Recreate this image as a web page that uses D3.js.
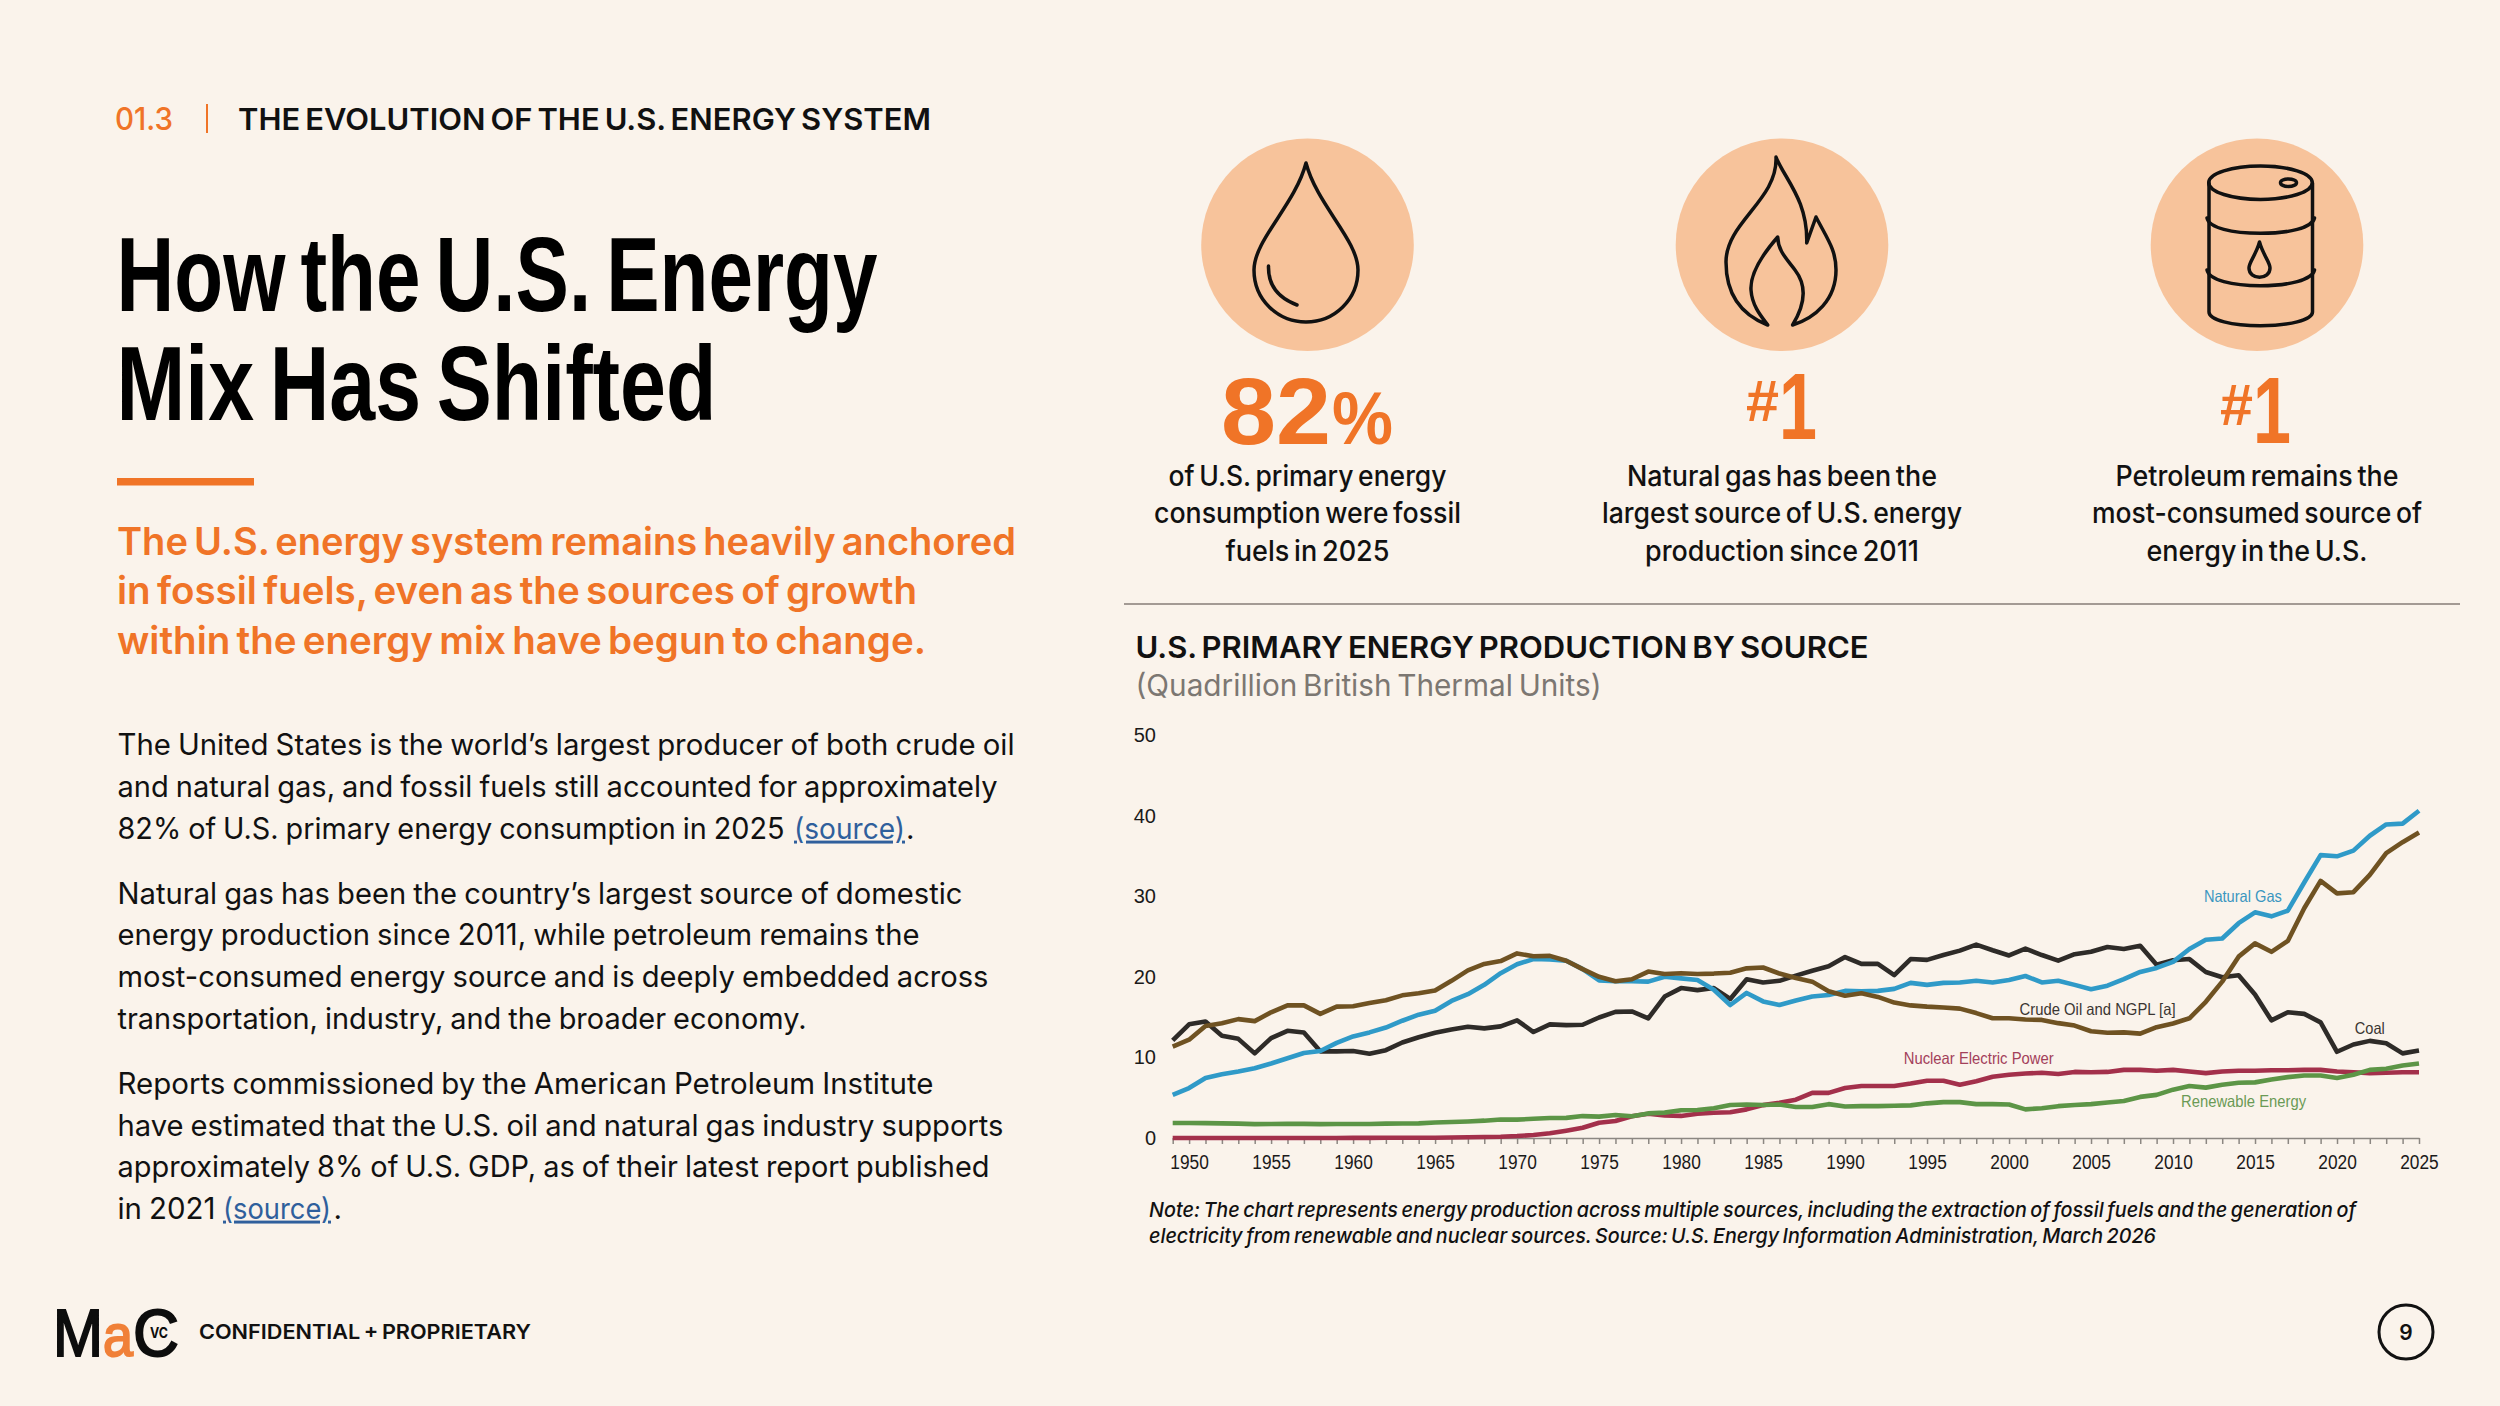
<!DOCTYPE html>
<html>
<head>
<meta charset="utf-8">
<style>
    html, body { margin: 0; padding: 0; background: #faf3eb; }
    svg { display: block; }
    text { font-family: Inter, "Liberation Sans", sans-serif; word-spacing: -0.09em; }
    .axis text, .tag { font-family: "Liberation Sans", Arial, sans-serif; word-spacing: 0; }
</style>
<script src="https://cdn.jsdelivr.net/npm/d3@7/dist/d3.min.js"></script>
</head>
<body>
<div id="slide"></div>
<script>
// Chart values (quadrillion Btu), 1949 to 2025
const years = d3.range(1949, 2026);
const coal = [12.1,
    14.1,14.45,12.7,12.3,10.5,12.4,13.3,13.1,10.75,10.75,
    10.8,10.45,10.9,11.85,12.5,13.05,13.45,13.8,13.6,13.85,
    14.6,13.15,14.1,14.0,14.05,14.95,15.65,15.7,14.85,17.55,
    18.6,18.35,18.6,17.25,19.7,19.3,19.5,20.15,20.75,21.3,
    22.45,21.6,21.6,20.2,22.2,22.1,22.7,23.25,24.0,23.3,
    22.65,23.5,22.7,22.0,22.8,23.1,23.7,23.45,23.85,21.5,
    22.05,22.2,20.6,19.95,20.2,17.8,14.6,15.6,15.4,14.35,
    10.7,11.6,12.05,11.75,10.5,10.85];
const naturalGas = [5.35,
    6.2,7.45,7.9,8.25,8.65,9.25,9.9,10.55,10.8,11.8,
    12.6,13.1,13.7,14.55,15.3,15.8,17.0,17.85,19.0,20.45,
    21.55,22.2,22.15,22.0,20.95,19.55,19.45,19.45,19.4,20.0,
    19.8,19.6,18.4,16.5,18.0,16.95,16.5,17.05,17.55,17.75,
    18.25,18.2,18.25,18.5,19.25,19.0,19.25,19.3,19.5,19.3,
    19.6,20.1,19.3,19.5,19.0,18.45,18.9,19.7,20.6,21.1,
    21.85,23.45,24.6,24.75,26.65,28.0,27.5,28.2,31.7,35.1,
    34.95,35.65,37.5,38.9,39.0,40.6];
const crudeOil = [11.35,
    12.2,13.9,14.25,14.75,14.5,15.6,16.45,16.45,15.4,16.3,
    16.35,16.75,17.1,17.7,17.95,18.3,19.5,20.8,21.6,21.95,
    22.9,22.55,22.6,22.0,20.95,20.0,19.45,19.7,20.65,20.35,
    20.45,20.35,20.4,20.5,21.05,21.15,20.4,19.85,19.4,18.2,
    17.65,17.95,17.5,16.8,16.45,16.3,16.2,16.05,15.5,14.85,
    14.85,14.7,14.65,14.25,13.95,13.25,13.05,13.1,12.95,13.75,
    14.2,14.85,16.9,19.4,22.5,24.15,23.1,24.45,28.5,31.9,
    30.35,30.5,32.65,35.35,36.7,37.9];
const nuclear = [0,
    0,0,0,0,0,0,0,0,0,0,
    0.01,0.02,0.03,0.03,0.04,0.04,0.06,0.09,0.13,0.15,
    0.24,0.38,0.58,0.91,1.27,1.9,2.1,2.7,3.0,2.8,
    2.74,3.0,3.13,3.2,3.55,4.08,4.38,4.75,5.6,5.6,
    6.2,6.45,6.45,6.45,6.75,7.1,7.1,6.6,7.05,7.6,
    7.85,8.0,8.1,7.95,8.2,8.15,8.2,8.45,8.45,8.35,
    8.45,8.25,8.05,8.25,8.35,8.35,8.4,8.4,8.45,8.45,
    8.25,8.15,8.05,8.1,8.15,8.15];
const renewable = [1.86,
    1.87,1.85,1.82,1.78,1.72,1.74,1.77,1.75,1.72,1.73,
    1.74,1.74,1.78,1.8,1.82,1.93,1.98,2.05,2.15,2.3,
    2.28,2.38,2.48,2.5,2.72,2.65,2.85,2.7,3.05,3.15,
    3.45,3.48,3.7,4.1,4.15,4.1,4.15,3.85,3.85,4.2,
    3.9,3.95,3.95,4.0,4.05,4.3,4.45,4.45,4.2,4.2,
    4.15,3.55,3.7,3.95,4.1,4.2,4.4,4.6,5.1,5.35,
    6.0,6.45,6.25,6.6,6.85,6.9,7.25,7.55,7.75,7.75,
    7.45,7.85,8.45,8.6,9.0,9.25];
const yTicks = [0, 10, 20, 30, 40, 50];
const seriesColors = { coal: "#2e2b28", naturalGas: "#2f9ac8", crudeOil: "#6f5222", nuclear: "#a3304b", renewable: "#5c9546" };

const bodyText = [
    ["The United States is the world\u2019s largest producer of both crude oil", 755.4, 897],
    ["and natural gas, and fossil fuels still accounted for approximately", 797, 880],
    ["82% of U.S. primary energy consumption in 2025", 838.6, 667],
    ["Natural gas has been the country\u2019s largest source of domestic", 903.6, 845],
    ["energy production since 2011, while petroleum remains the", 945.4, 802],
    ["most-consumed energy source and is deeply embedded across", 986.8, 871],
    ["transportation, industry, and the broader economy.", 1028.6, 689],
    ["Reports commissioned by the American Petroleum Institute", 1094, 816],
    ["have estimated that the U.S. oil and natural gas industry supports", 1135.7, 886],
    ["approximately 8% of U.S. GDP, as of their latest report published", 1177, 872],
    ["in 2021", 1218.6, 98]
];
const statCaptions = [
    [1307.5, ["of U.S. primary energy", 278], ["consumption were fossil", 307], ["fuels in 2025", 164]],
    [1782, ["Natural gas has been the", 310], ["largest source of U.S. energy", 360], ["production since 2011", 274]],
    [2257, ["Petroleum remains the", 283], ["most-consumed source of", 330], ["energy in the U.S.", 221]]
];

const svg = d3.select("#slide").append("svg").attr("width", 2500).attr("height", 1406);
svg.append("rect").attr("width", 2500).attr("height", 1406).attr("fill", "#faf3eb");

// Text squeezed to a measured width, the slide fonts are narrower than what we have here
function put(str, x, y, width, size, weight, fill) {
    let t = svg.append("text")
        .attr("x", x).attr("y", y)
        .attr("font-size", size).attr("font-weight", weight).attr("fill", fill)
        .text(str);
    if (width) t.attr("textLength", width).attr("lengthAdjust", "spacingAndGlyphs");
    return t;
}
const sans = "Liberation Sans";

const ink = "#111111", orange = "#f07427";

// Left column
put("01.3", 115, 129.7, 58, 31, 500, orange);
svg.append("rect").attr("x", 206).attr("y", 104).attr("width", 2).attr("height", 29).attr("fill", orange);
put("THE EVOLUTION OF THE U.S. ENERGY SYSTEM", 238, 129.7, 693, 30, 600, ink);
put("How the U.S. Energy", 116.5, 311, 761, 105, 700, "#000").style("font-family", sans);
put("Mix Has Shifted", 116.5, 420, 600, 105, 700, "#000").style("font-family", sans);
svg.append("rect").attr("x", 117).attr("y", 478).attr("width", 137).attr("height", 7.5).attr("fill", orange);
put("The U.S. energy system remains heavily anchored", 117, 554.5, 899, 38, 600, orange);
put("in fossil fuels, even as the sources of growth", 117, 604.3, 800, 38, 600, orange);
put("within the energy mix have begun to change.", 117, 654, 809, 38, 600, orange);

bodyText.forEach(d => put(d[0], 117.5, d[1], d[2], 29.5, 400, ink).style("word-spacing", "-0.04em"));
const linkBlue = "#2f5f9c";
put("(source)", 794, 838.6, 111, 29.5, 400, linkBlue).style("text-decoration", "underline");
put(".", 906, 838.6, null, 29.5, 400, ink);
put("(source)", 223, 1218.6, 108, 29.5, 400, linkBlue).style("text-decoration", "underline");
put(".", 333.5, 1218.6, null, 29.5, 400, ink);

// Footer, the logo letters are regular weight thickened with a stroke
function logoLetter(str, x, width, size, fill) {
    put(str, x, 1356, width, size, 400, fill)
        .style("font-family", sans)
        .attr("stroke", fill).attr("stroke-width", 2);
}
logoLetter("M", 53, 50, 66, "#0d0d0d");
logoLetter("a", 103, 30, 60, "#f08038");
logoLetter("C", 133, 46, 67, "#0d0d0d");
put("VC", 150, 1338, 18, 15, 700, "#0d0d0d");
put("CONFIDENTIAL + PROPRIETARY", 199, 1339, 332, 20.5, 600, ink);
svg.append("circle").attr("cx", 2406).attr("cy", 1332).attr("r", 27).attr("fill", "none").attr("stroke", "#111").attr("stroke-width", 3);
put("9", 2406, 1340, null, 21, 600, ink).attr("text-anchor", "middle");

// Stat icons
[1307.5, 1782, 2257].forEach(cx => {
    svg.append("circle").attr("cx", cx).attr("cy", 244.7).attr("r", 106.3).attr("fill", "#f7c39b");
});
const icons = svg.append("g").attr("fill", "none").attr("stroke", "#111").attr("stroke-width", 3.5).attr("stroke-linejoin", "round").attr("stroke-linecap", "round");
const iconPaths = [
    "M1306 163C1295 205 1254 240 1254 270C1254 300 1278 322 1306 322C1334 322 1358 300 1358 270C1358 240 1317 205 1306 163Z",
    "M1268.5 266C1268 285 1278 298 1297 305",
    "M1776 157C1784 178 1808 200 1806.7 243L1816 217C1828 240 1836 250 1836 270C1836 300 1815 318 1792.6 325C1808 300 1805 283 1795 270C1785 257 1778 250 1777.7 237C1762 255 1750 275 1751 290C1752 305 1760 315 1767.7 325C1742 315 1726 295 1726 262C1726 222 1778 200 1776 157Z",
    "M2209 183V312C2209 320 2232 325.7 2260.5 325.7C2289 325.7 2312.5 320 2312.5 312V183",
    "M2207 218C2209 228 2232 233.3 2260.5 233.3C2289 233.3 2312 228 2314.5 218",
    "M2207 270C2209 280 2232 285.7 2260.5 285.7C2289 285.7 2312 280 2314.5 270",
    "M2259.5 242C2256 255 2249 262 2249 268C2249 274 2254 277.3 2259.5 277.3C2265 277.3 2270 274 2270 268C2270 262 2263 255 2259.5 242Z"
];
iconPaths.forEach(d => icons.append("path").attr("d", d));
icons.append("ellipse").attr("cx", 2260.5).attr("cy", 182.7).attr("rx", 51.8).attr("ry", 16.7);
icons.append("ellipse").attr("cx", 2288.5).attr("cy", 182.7).attr("rx", 8).attr("ry", 3.8);

// Stat numbers
put("82", 1221, 444, 110, 95, 700, orange).style("font-family", sans);
put("%", 1332, 444, 61, 74, 700, orange).style("font-family", sans);
put("#", 1746, 421, 33, 58, 700, orange).style("font-family", sans);
put("1", 1779, 439, 38, 95, 700, orange).style("font-family", sans);
put("#", 2220, 425, 33, 58, 700, orange).style("font-family", sans);
put("1", 2253, 443, 38, 95, 700, orange).style("font-family", sans);

const captionY = [485.5, 523, 560.5];
statCaptions.forEach(c => {
    [c[1], c[2], c[3]].forEach((line, i) => {
        put(line[0], c[0] - line[1] / 2, captionY[i], line[1], 28, 500, ink);
    });
});

// Chart header
svg.append("line").attr("x1", 1124).attr("x2", 2460).attr("y1", 604).attr("y2", 604).attr("stroke", "#a39a94").attr("stroke-width", 2);
put("U.S. PRIMARY ENERGY PRODUCTION BY SOURCE", 1135.5, 658, 733, 30, 600, ink);
put("(Quadrillion British Thermal Units)", 1135.5, 695.7, 466, 30, 400, "#7c7772");

// Line chart
const x = d3.scaleLinear().domain([1949, 2025]).range([1172.7, 2419]);
const y = d3.scaleLinear().domain([0, 50]).range([1138, 735]);

const xAxis = d3.axisBottom(x)
    .tickValues(years)
    .tickSize(6)
    .tickSizeOuter(0)
    .tickFormat(d => d % 5 === 0 ? String(d) : "");
const gx = svg.append("g").attr("class", "axis").attr("transform", "translate(0,1138)").call(xAxis);
gx.selectAll("line").attr("stroke", "#8c8782").attr("stroke-width", 1.5);
gx.select(".domain").attr("stroke", "#8c8782").attr("stroke-width", 1.5);
gx.selectAll("text")
    .attr("y", 31).attr("dy", 0).attr("font-size", 20).attr("fill", "#1a1a1a")
    .filter(function() { return this.textContent !== ""; })
    .attr("textLength", 38.5).attr("lengthAdjust", "spacingAndGlyphs");

const yAxis = d3.axisLeft(y).tickValues(yTicks).tickSize(0).tickPadding(0);
const gy = svg.append("g").attr("class", "axis").attr("transform", "translate(1156,0)").call(yAxis);
gy.select(".domain").remove();
gy.selectAll("text").attr("font-size", 20).attr("fill", "#1a1a1a");

const line = d3.line().x((d, i) => x(years[i])).y(d => y(d));
const drawOrder = [
    [coal, seriesColors.coal],
    [naturalGas, seriesColors.naturalGas],
    [nuclear, seriesColors.nuclear],
    [renewable, seriesColors.renewable],
    [crudeOil, seriesColors.crudeOil]
];
drawOrder.forEach(s => {
    svg.append("path").datum(s[0])
        .attr("d", line)
        .attr("fill", "none")
        .attr("stroke", s[1])
        .attr("stroke-width", 4.6)
        .attr("stroke-linejoin", "round");
});

// Direct labels
function tag(str, year, value, width, fill) {
    svg.append("text").attr("class", "tag")
        .attr("x", x(year) - width / 2).attr("y", y(value))
        .attr("font-size", 16.5).attr("fill", fill)
        .attr("textLength", width).attr("lengthAdjust", "spacingAndGlyphs")
        .text(str);
}
tag("Natural Gas", 2014.26, 29.3, 78, "#3a96c0");
tag("Crude Oil and NGPL [a]", 2005.4, 15.2, 156, "#3a3632");
tag("Coal", 2022, 12.9, 30, "#3a3632");
tag("Nuclear Electric Power", 1998.15, 9.13, 150, "#a3405a");
tag("Renewable Energy", 2014.3, 3.88, 125, "#6a9a55");

// Note
put("Note: The chart represents energy production across multiple sources, including the extraction of fossil fuels and the generation of", 1149, 1217.3, 1207, 20.5, 500, ink).attr("font-style", "italic");
put("electricity from renewable and nuclear sources. Source: U.S. Energy Information Administration, March 2026", 1149, 1242.7, 1007, 20.5, 500, ink).attr("font-style", "italic");
</script>
</body>
</html>
